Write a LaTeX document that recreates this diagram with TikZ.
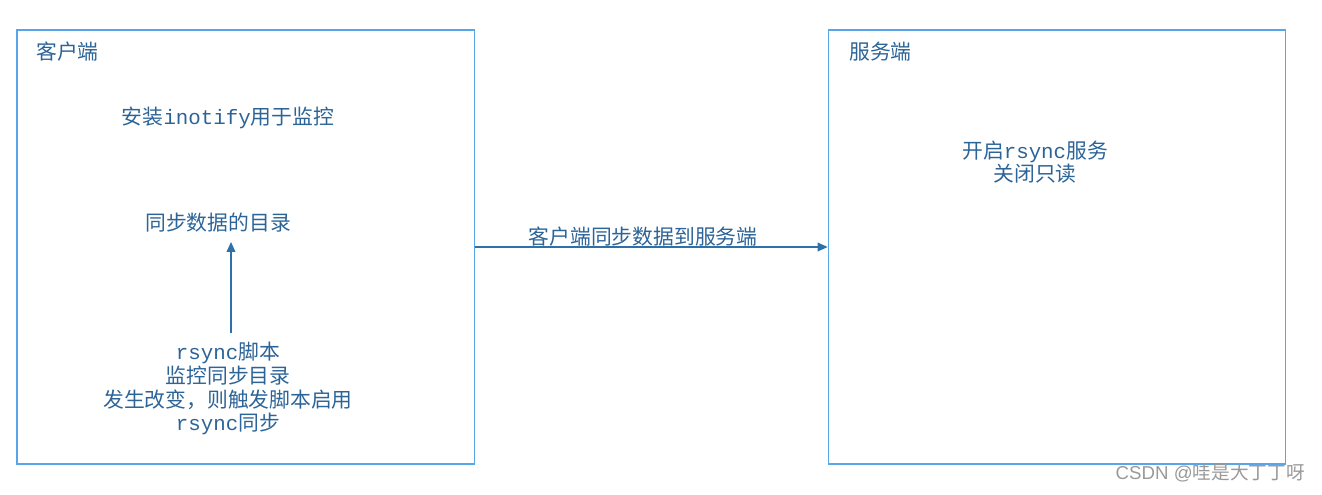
\documentclass[tikz,border=0pt]{standalone}
\usepackage{fontspec}
\setmainfont{Noto Sans CJK SC}
\newfontfamily\monolat{Liberation Mono}
\newfontfamily\marklat{Liberation Sans}
\usetikzlibrary{arrows.meta}
\definecolor{boxblue}{RGB}{86,166,232}
\definecolor{txtblue}{RGB}{44,100,152}
\definecolor{arrblue}{RGB}{46,112,170}
\tikzset{
  sidebox/.style={draw=boxblue,line width=1pt,minimum width=343pt,minimum height=325.5pt,inner sep=0pt},
  lbl/.style={text=txtblue,font=\fontsize{15.6}{17.8}\selectfont,inner sep=0.75pt,align=center},
  flow/.style={draw=arrblue,line width=1pt,-{Triangle[length=7.5pt,width=6.5pt]}}
}
\begin{document}
\begin{tikzpicture}[x=0.75pt,y=0.75pt,yscale=-1,xscale=1]
\useasboundingbox (0,0) rectangle (1322,494);

%Shapes: the two sides
\node [sidebox] (client) at (245.5,247) {};
\node [sidebox] (server) at (1057,247) {};

% Text Node
\node [lbl,anchor=west] (clienttitle) at (35,52) {客户端};
\node [lbl,anchor=west] (servertitle) at (848,52) {服务端};
% Text Node
\node [lbl] (inotify) at (228,118) {安装{\monolat inotify}用于监控};
\node [lbl] (syncdir) at (218,223) {同步数据的目录};
\node [lbl,anchor=north] (script) at (228,341) {{\monolat rsync}脚本\\监控同步目录\\发生改变，则触发脚本启用\\{\monolat rsync}同步};
\node [lbl] (service) at (1035,162) {开启{\monolat rsync}服务\\关闭只读};
\node [lbl] (pushlbl) at (643,237) {客户端同步数据到服务端};

%Straight Lines
\coordinate (uptail) at (231,333);
\draw [flow,shorten >=6pt] (uptail) -- (uptail |- syncdir.south);
\draw [flow] (client.east) -- (server.west);

% watermark
\node [anchor=east,text=black!40,font=\fontsize{14}{16}\selectfont,inner sep=0pt] (mark) at (1305,473) {{\marklat CSDN @}哇是大丁丁呀};
\end{tikzpicture}
\end{document}
